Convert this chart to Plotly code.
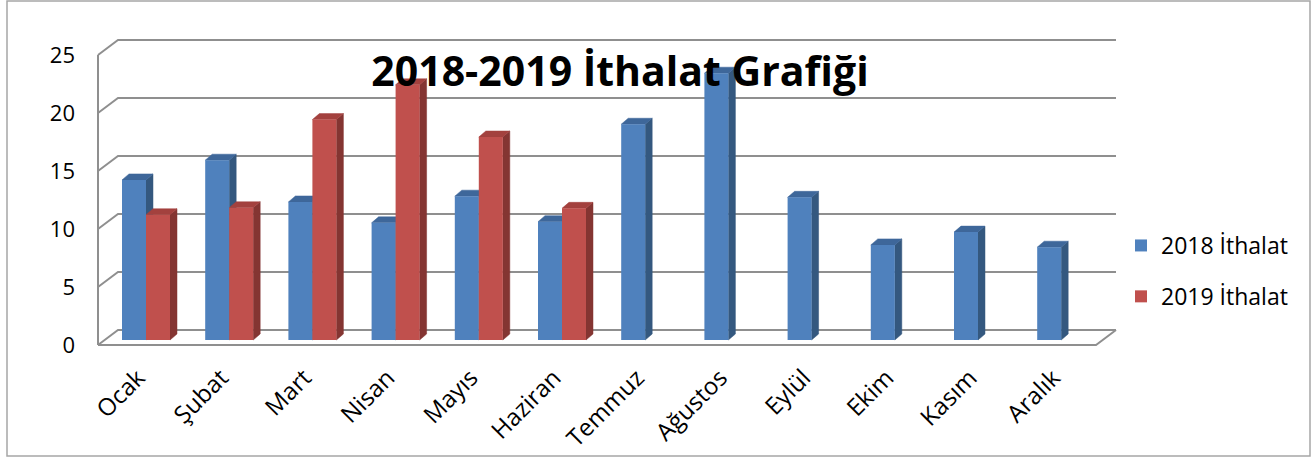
import plotly.graph_objects as go

# ---------------- data ----------------
months = ["Ocak", "Şubat", "Mart", "Nisan", "Mayıs", "Haziran",
          "Temmuz", "Ağustos", "Eylül", "Ekim", "Kasım", "Aralık"]
ithalat_2018 = [13.8, 15.5, 11.9, 10.1, 12.4, 10.2, 18.6, 23.0, 12.3, 8.2, 9.3, 8.0]
ithalat_2019 = [10.8, 11.4, 19.0, 22.0, 17.5, 11.35, None, None, None, None, None, None]
y_tick_values = [0, 5, 10, 15, 20, 25]
series_names = ["2018 İthalat", "2019 İthalat"]
chart_title = "2018-2019 İthalat Grafiği"

# ---------------- styling / geometry (pixels) ----------------
W, H = 1314, 459
PL, PR, PT, PB = 90, 1130, 30, 350
X0_PX = 146.0       # pixel of first category centre
CAT_PX = 83.2       # pixels per category
UNIT_PX = 11.6      # pixels per value unit
ZERO_PX = 345.0     # pixel of value 0 on the front plane
LABEL_SHIFT_PX = -8  # nudge of the rotated month labels

FONT = "Open Sans"
front_cols = ["#4F81BD", "#C0504D"]
side_cols = ["#34587F", "#843532"]
top_cols = ["#3E679A", "#A3413E"]
grid_col = "#8F8F8F"

x_range = [(PL - X0_PX) / CAT_PX, (PR - X0_PX) / CAT_PX]
y_range = [-(PB - ZERO_PX) / UNIT_PX, (ZERO_PX - PT) / UNIT_PX]

bargap = 1 - 2 * 24 / CAT_PX
bw = (1 - bargap) / 2
base0 = 5 / UNIT_PX
ddx, ddy = 7 / CAT_PX, 6 / UNIT_PX          # bar depth
wdx, wdy = 20 / CAT_PX, 15 / UNIT_PX        # wall depth
xL = (98 - X0_PX) / CAT_PX
xR = (1096 - X0_PX) / CAT_PX


def px_to_paper_x(px):
    return (px - PL) / (PR - PL)


def px_to_paper_y(py):
    return (PB - py) / (PB - PT)


fig = go.Figure()

# ---------------- walls / gridlines ----------------
gx, gy = [], []
for v in y_tick_values:
    gx += [xL, xL + wdx, xR + wdx, None]
    gy += [v, v + wdy, v + wdy, None]
gx += [xL, xL, None, xL, xR, xR + wdx, None]
gy += [y_tick_values[-1], 0, None, 0, 0, wdy, None]
fig.add_trace(go.Scatter(x=gx, y=gy, mode="lines", line=dict(color=grid_col, width=2),
                         hoverinfo="skip", showlegend=False, zorder=0))


# ---------------- 3D faces of bars ----------------
def faces(values, offset):
    sx, sy, tx, ty = [], [], [], []
    for i, v in enumerate(values):
        if v is None:
            continue
        a = i + offset
        b = a + bw
        top = base0 + v
        sx += [b, b + ddx, b + ddx, b, b, None]
        sy += [base0, base0 + ddy, top + ddy, top, base0, None]
        tx += [a, a + ddx, b + ddx, b, a, None]
        ty += [top, top + ddy, top + ddy, top, top, None]
    return sx, sy, tx, ty


for k, vals in enumerate([ithalat_2018, ithalat_2019]):
    off = -bw if k == 0 else 0.0
    sx, sy, tx, ty = faces(vals, off)
    fig.add_trace(go.Scatter(x=sx, y=sy, mode="lines", fill="toself", fillcolor=side_cols[k],
                             line=dict(color=side_cols[k], width=0.5), hoverinfo="skip",
                             showlegend=False, zorder=1))
    fig.add_trace(go.Scatter(x=tx, y=ty, mode="lines", fill="toself", fillcolor=top_cols[k],
                             line=dict(color=top_cols[k], width=0.5), hoverinfo="skip",
                             showlegend=False, zorder=1))

# ---------------- front faces (bars) ----------------
for k, vals in enumerate([ithalat_2018, ithalat_2019]):
    fig.add_trace(go.Bar(
        x=list(range(len(months))), y=vals, base=base0, name=series_names[k],
        marker=dict(color=front_cols[k], line=dict(width=0)),
        legendgroup=series_names[k], zorder=2,
        customdata=months, hovertemplate="%{customdata}: %{y}<extra>" + series_names[k] + "</extra>",
    ))

label_pos = [i + LABEL_SHIFT_PX / CAT_PX for i in range(len(months))]

fig.update_layout(
    width=W, height=H, autosize=False,
    margin=dict(l=PL, r=W - PR, t=PT, b=H - PB, pad=0, autoexpand=False),
    paper_bgcolor="white", plot_bgcolor="white",
    barmode="group", bargap=bargap, bargroupgap=0,
    font=dict(family=FONT, color="black"),
    title=dict(text="<b>" + chart_title + "</b>", font=dict(family=FONT, size=41, color="black"),
               xref="container", yref="container", x=620 / W, y=1 - 72 / H,
               xanchor="center", yanchor="middle"),
    legend=dict(xref="paper", yref="paper", x=px_to_paper_x(1121), y=px_to_paper_y(271),
                xanchor="left", yanchor="middle", font=dict(family=FONT, size=23),
                tracegroupgap=18, bgcolor="rgba(0,0,0,0)"),
    xaxis=dict(range=x_range, tickvals=label_pos, ticktext=months,
               tickangle=-45, showgrid=False, zeroline=False, showline=False, ticks="",
               tickfont=dict(family=FONT, size=24, color="black"), ticklabelstandoff=8,
               automargin=False, fixedrange=True),
    yaxis=dict(range=y_range, tickvals=y_tick_values, showgrid=False, zeroline=False,
               showline=False, ticks="", tickfont=dict(family=FONT, size=22, color="black"),
               ticklabelstandoff=14, automargin=False, fixedrange=True),
    shapes=[dict(type="rect", xref="paper", yref="paper",
                 x0=px_to_paper_x(7), x1=px_to_paper_x(1310),
                 y0=px_to_paper_y(456), y1=px_to_paper_y(1),
                 line=dict(color="#A6A6A6", width=1.5), layer="below")],
)

fig.write_html("out.html", config={"displayModeBar": False},
               post_script="document.body.style.margin='0px';")
